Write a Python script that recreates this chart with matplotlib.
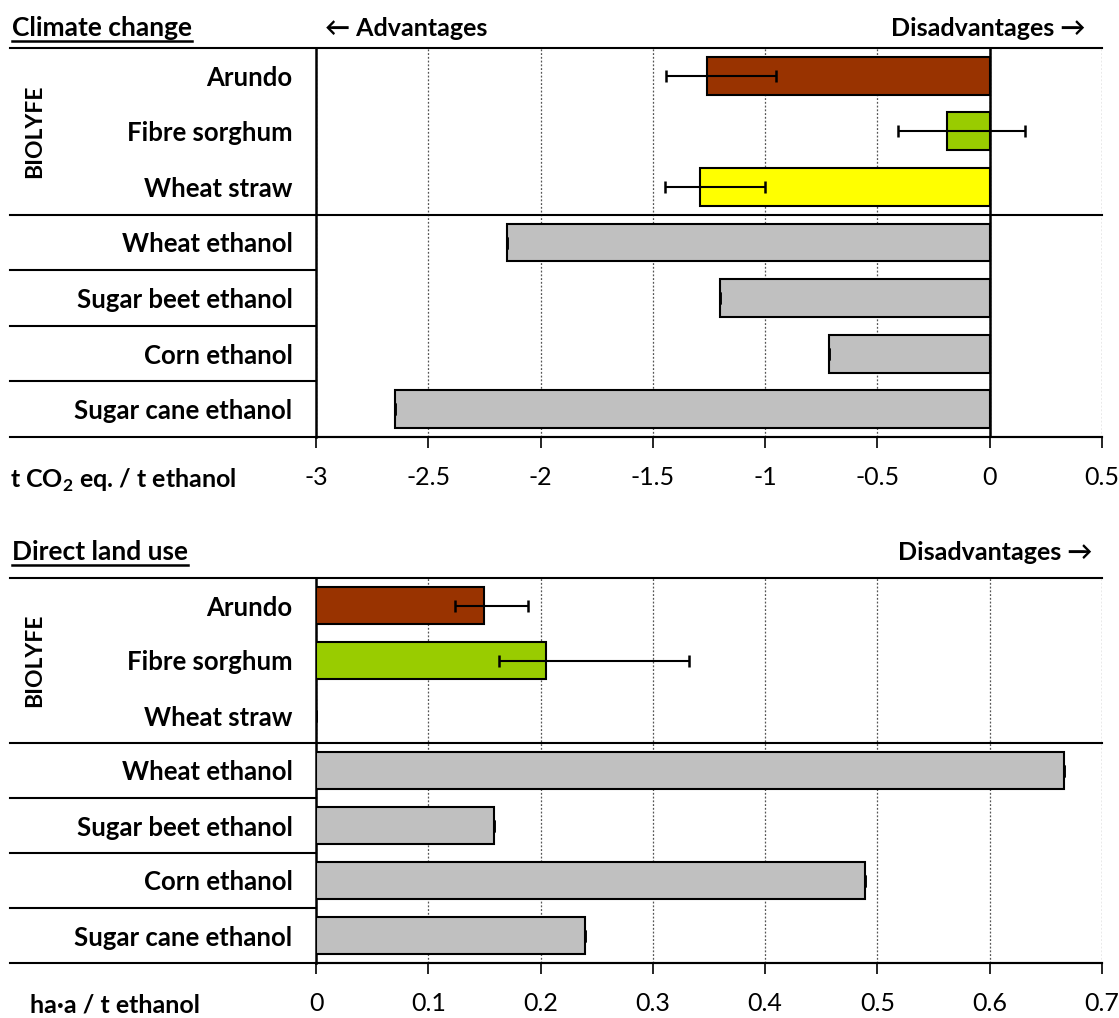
import matplotlib
matplotlib.use("Agg")
import matplotlib.pyplot as plt
from matplotlib.lines import Line2D

plt.rcParams['font.family'] = ['Lato', 'DejaVu Sans']
plt.rcParams['mathtext.fontset'] = 'custom'
plt.rcParams['mathtext.rm'] = 'Lato'
plt.rcParams['mathtext.bf'] = 'Lato:bold'

# data
categories = ["Arundo", "Fibre sorghum", "Wheat straw", "Wheat ethanol",
              "Sugar beet ethanol", "Corn ethanol", "Sugar cane ethanol"]
colors = ["#993300", "#99CC00", "#FFFF00", "#C0C0C0", "#C0C0C0", "#C0C0C0", "#C0C0C0"]

climate = [-1.26, -0.19, -1.29, -2.15, -1.20, -0.715, -2.65]
climate_err_lo = [0.18, 0.22, 0.155, 0, 0, 0, 0]
climate_err_hi = [0.31, 0.345, 0.29, 0, 0, 0, 0]
climate_ticks = [-3, -2.5, -2, -1.5, -1, -0.5, 0, 0.5]

landuse = [0.150, 0.205, 0.0, 0.666, 0.1585, 0.489, 0.240]
landuse_err_lo = [0.026, 0.042, 0, 0, 0, 0, 0]
landuse_err_hi = [0.039, 0.127, 0, 0, 0, 0, 0]
landuse_ticks = [0, 0.1, 0.2, 0.3, 0.4, 0.5, 0.6, 0.7]

W, H = 1119, 1018
fig = plt.figure(figsize=(W / 100, H / 100), dpi=100)

x0, x1 = 316, 1102
lab_left = (10 - x0) / (x1 - x0)


def make_axes(top, bottom):
    return fig.add_axes([x0 / W, 1 - bottom / H, (x1 - x0) / W, (bottom - top) / H])


def draw_panel(ax, vals, lo, hi, ticks, zero_line):
    ys = list(range(len(categories)))
    ax.barh(ys, vals, height=0.68, color=colors, edgecolor="black", linewidth=1.5, zorder=3)
    ax.errorbar(vals, ys, xerr=[lo, hi], fmt="none", ecolor="black",
                elinewidth=1.5, capsize=4, capthick=1.8, zorder=4)
    ax.set_ylim(len(categories) - 0.5, -0.5)
    ax.set_xlim(ticks[0], ticks[-1])
    ax.set_xticks(ticks)
    ax.set_xticklabels([f"{t:g}" for t in ticks], fontsize=18)
    ax.tick_params(axis="x", direction="out", length=8, width=1.2, pad=13)
    ax.set_yticks(ys)
    ax.set_yticklabels(categories, fontsize=18.5, fontweight="bold")
    ax.tick_params(axis="y", length=0, pad=17)
    ax.grid(axis="x", linestyle=(0, (1.5, 1.5)), color="#555555", linewidth=0.9, zorder=0)
    for s in ["top", "right"]:
        ax.spines[s].set_visible(False)
    ax.spines["left"].set_linewidth(1.8)
    ax.spines["bottom"].set_linewidth(1.5)
    if zero_line:
        ax.axvline(0, color="black", linewidth=1.8, zorder=5)
    tr = ax.get_yaxis_transform()
    # separator lines
    for y, xa, xb in [(-0.5, lab_left, 1), (2.5, lab_left, 1), (3.5, lab_left, 0),
                      (4.5, lab_left, 0), (5.5, lab_left, 0), (6.5, lab_left, 1)]:
        ax.add_line(Line2D([xa, xb], [y, y], transform=tr, color="black",
                           linewidth=1.5, clip_on=False, zorder=6))
    ax.text(-0.358, 1, "BIOLYFE", transform=tr, rotation=90, ha="center", va="center",
            fontsize=16.5, fontweight="bold")


ax1 = make_axes(48, 437)
draw_panel(ax1, climate, climate_err_lo, climate_err_hi, climate_ticks, True)
ax2 = make_axes(578, 963)
draw_panel(ax2, landuse, landuse_err_lo, landuse_err_hi, landuse_ticks, False)


def ftxt(x, y, s, size=18, **kw):
    return fig.text(x / W, 1 - y / H, s, va="center", fontsize=size, fontweight="bold", **kw)


titles = [ftxt(12, 28, "Climate change", 19), ftxt(12, 552, "Direct land use", 19)]
ftxt(325, 28, "\u2190 Advantages")
ftxt(1085, 28, "Disadvantages \u2192", ha="right")
ftxt(1092, 552, "Disadvantages \u2192", ha="right")
ftxt(10, 480, r"t CO$_{\mathbf{2}}$ eq. / t ethanol")
ftxt(30, 1005, "ha\u00b7a / t ethanol")

fig.canvas.draw()
for t in titles:
    bb = t.get_window_extent()
    fig.add_artist(Line2D([bb.x0 / W, bb.x1 / W], [(bb.y0 - 1) / H, (bb.y0 - 1) / H],
                          color="black", linewidth=1.8))

fig.savefig("out.png", dpi=100)
